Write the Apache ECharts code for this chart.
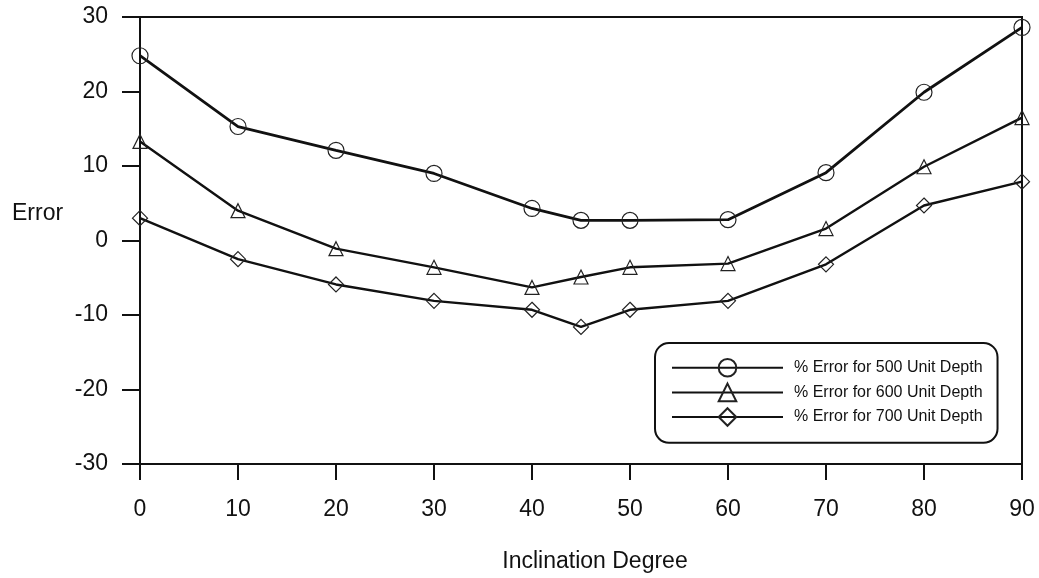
<!DOCTYPE html>
<html>
<head>
<meta charset="utf-8">
<script src="https://cdn.jsdelivr.net/npm/echarts@6/dist/echarts.min.js"></script>
<style>html,body{margin:0;padding:0;background:#fff}#c{width:1039px;height:578px}</style>
</head>
<body>
<div id="c"></div>
<script>
var inclination = [0, 10, 20, 30, 40, 45, 50, 60, 70, 80, 90];
var err500 = [24.8, 15.3, 12.1, 9.0, 4.3, 2.7, 2.7, 2.8, 9.1, 19.9, 28.6];
var err600 = [13.3, 4.0, -1.1, -3.6, -6.3, -4.9, -3.6, -3.1, 1.6, 9.9, 16.5];
var err700 = [3.0, -2.5, -5.9, -8.1, -9.3, -11.6, -9.3, -8.1, -3.2, 4.7, 7.9];
var seriesNames = ['% Error for 500 Unit Depth', '% Error for 600 Unit Depth', '% Error for 700 Unit Depth'];

function pairs(vals) { return inclination.map(function (x, i) { return [x, vals[i]]; }); }

var font = 'Liberation Sans, Arial, sans-serif';
var chart = echarts.init(document.getElementById('c'), null, { renderer: 'canvas' });
function mk(name, vals, symbol, size, lw) {
  return {
    name: name, type: 'line', data: pairs(vals), symbol: symbol, symbolSize: size,
    showAllSymbol: true,
    lineStyle: { color: '#111', width: lw },
    itemStyle: { color: 'rgba(255,255,255,0)', borderColor: '#222', borderWidth: 1.2 },
    emphasis: { disabled: true }, animation: false, z: 3
  };
}
chart.setOption({
  backgroundColor: '#fff',
  animation: false,
  title: {
    text: 'Error', left: 12, top: 202, padding: 0,
    textStyle: { fontFamily: font, fontSize: 23, fontWeight: 'normal', color: '#111' }
  },
  grid: { left: 140, right: 17, top: 17, bottom: 114, show: true, borderColor: '#111', borderWidth: 2, backgroundColor: 'transparent' },
  legend: {
    orient: 'vertical', left: 655, top: 343,
    padding: [15, 15, 16, 16], itemGap: 5, itemWidth: 111, itemHeight: 22,
    backgroundColor: '#fff', borderColor: '#111', borderWidth: 2, borderRadius: 14,
    textStyle: { fontFamily: font, fontSize: 16, color: '#111', padding: [0, 0, 0, 6] },
    data: seriesNames
  },
  xAxis: {
    type: 'value', min: 0, max: 90, interval: 10,
    name: 'Inclination Degree', nameLocation: 'middle', nameGap: 86,
    nameTextStyle: { fontFamily: font, fontSize: 23, color: '#111', padding: [0, 0, 0, 28] },
    axisLine: { show: true, onZero: false, lineStyle: { color: '#111', width: 2 } },
    axisTick: { show: true, inside: false, length: 16, lineStyle: { color: '#111', width: 2 } },
    axisLabel: { fontFamily: font, fontSize: 23, color: '#111', margin: 34 },
    splitLine: { show: false }
  },
  yAxis: {
    type: 'value', min: -30, max: 30, interval: 10,
    axisLine: { show: true, onZero: false, lineStyle: { color: '#111', width: 2 } },
    axisTick: { show: true, inside: false, length: 18, lineStyle: { color: '#111', width: 2 } },
    axisLabel: { fontFamily: font, fontSize: 23, color: '#111', margin: 32 },
    splitLine: { show: false }
  },
  series: [
    mk(seriesNames[0], err500, 'circle', 16, 2.8),
    mk(seriesNames[1], err600, 'triangle', 14, 2.4),
    mk(seriesNames[2], err700, 'diamond', 15, 2.4)
  ]
});
</script>
</body>
</html>
